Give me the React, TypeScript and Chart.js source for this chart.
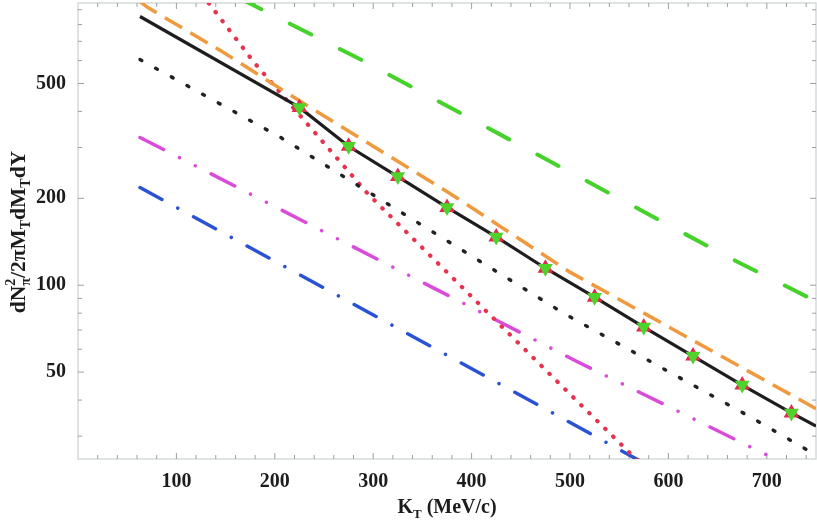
import React, { useEffect, useRef } from "react";
import { Chart, registerables } from "chart.js";

Chart.register(...registerables);

// ---- data (K_T in MeV/c, spectrum values) ----
const markerK = [225, 275, 325, 375, 425, 475, 525, 575, 625, 675, 725];
const redMarkerY = [413, 303, 238, 186, 147, 114.5, 90.9, 71.6, 56.8, 45.1, 36.1];
const greenMarkerY = [413, 303, 238, 186, 147, 114.5, 90.9, 71.6, 56.8, 45.1, 36.1];

const solidK = [63, 225, 275, 325, 375, 425, 475, 525, 575, 625, 675, 725, 750];
const solidY = [853, 413, 303, 238, 186, 147, 114.5, 90.9, 71.6, 56.8, 45.1, 36.1, 32.5];

const orangeK = [63, 71, 148, 223, 300, 376, 500, 581, 659, 736, 750];
const orangeY = [960, 916, 640, 440, 303, 210, 111, 78, 55.5, 39.7, 37.3];

const blackDotK = [63, 206, 495, 685, 750];
const blackDotY = [605, 325, 79.4, 34.7, 25.8];

const redDotK = [120, 132.5, 179, 295, 495, 566, 580];
const redDotY = [1100, 953, 591, 206.6, 43.6, 25.2, 22.8];

const magentaK = [63, 508, 720];
const magentaY = [325, 54.2, 23.9];

const blueK = [63, 462, 580];
const blueY = [218, 39.4, 23.7];

const greenK = [63, 289, 659, 750];
const greenY = [1476, 601, 126, 88];

const xTickLabels = [100, 200, 300, 400, 500, 600, 700];
const yTickLabels = [50, 100, 200, 500];
const yFrameTicks = [30, 40, 50, 60, 70, 80, 90, 100, 200, 300, 400, 500, 600, 700, 800, 900];

const SERIF = "'Liberation Serif', 'Times New Roman', serif";
const TEXT_COLOR = "#1c1c1c";

type Run = { t: string; s: number; dy?: number; stack?: boolean };

function drawRuns(ctx: CanvasRenderingContext2D, runs: Run[]) {
  let total = 0;
  let prevW = 0;
  const widths: number[] = [];
  runs.forEach((r) => {
    ctx.font = `bold ${r.s}px ${SERIF}`;
    const w = ctx.measureText(r.t).width;
    widths.push(w);
    if (r.stack) {
      total += Math.max(0, w - prevW);
      prevW = Math.max(prevW, w);
    } else {
      total += w;
      prevW = w;
    }
  });
  let x = -total / 2;
  let lastStart = x;
  let lastW = 0;
  runs.forEach((r, i) => {
    ctx.font = `bold ${r.s}px ${SERIF}`;
    if (r.stack) {
      ctx.fillText(r.t, lastStart, r.dy || 0);
      x = Math.max(lastStart + lastW, lastStart + widths[i]);
      lastW = Math.max(lastW, widths[i]);
    } else {
      ctx.fillText(r.t, x, r.dy || 0);
      lastStart = x;
      lastW = widths[i];
      x += widths[i];
    }
  });
}

const framePlugin = {
  id: "frameAndTitles",
  beforeDatasetsDraw(chart: any) {
    const { ctx, chartArea } = chart;
    const { left, right, top, bottom } = chartArea;
    const xs = chart.scales.x;
    const ys = chart.scales.y;
    ctx.save();
    ctx.strokeStyle = "#c9d0d0";
    ctx.lineWidth = 1.2;
    ctx.strokeRect(left, top, right - left, bottom - top);
    ctx.strokeStyle = "#9aa0a0";
    ctx.lineWidth = 1;
    ctx.beginPath();
    for (let v = 20; v < 750; v += 20) {
      const px = xs.getPixelForValue(v);
      const len = v % 100 === 0 ? 6 : 4;
      ctx.moveTo(px, bottom);
      ctx.lineTo(px, bottom - len);
      ctx.moveTo(px, top);
      ctx.lineTo(px, top + len);
    }
    yFrameTicks.forEach((v) => {
      const py = ys.getPixelForValue(v);
      const len = yTickLabels.includes(v) ? 6 : 4;
      ctx.moveTo(left, py);
      ctx.lineTo(left + len, py);
      ctx.moveTo(right, py);
      ctx.lineTo(right - len, py);
    });
    ctx.stroke();
    ctx.restore();
  },
  afterDraw(chart: any) {
    const { ctx } = chart;
    ctx.save();
    ctx.fillStyle = TEXT_COLOR;
    ctx.textBaseline = "alphabetic";
    ctx.textAlign = "left";
    ctx.save();
    ctx.translate(447, 513);
    drawRuns(ctx, [
      { t: "K", s: 20 },
      { t: "T", s: 13, dy: 5 },
      { t: " (MeV/c)", s: 20 },
    ]);
    ctx.restore();
    ctx.save();
    ctx.translate(25, 232);
    ctx.rotate(-Math.PI / 2);
    drawRuns(ctx, [
      { t: "dN", s: 21.5 },
      { t: "π", s: 14, dy: 5 },
      { t: "2", s: 14, dy: -10, stack: true },
      { t: "/2πM", s: 21.5 },
      { t: "T", s: 14, dy: 5 },
      { t: "dM", s: 21.5 },
      { t: "T", s: 14, dy: 5 },
      { t: "dY", s: 21.5 },
    ]);
    ctx.restore();
    ctx.restore();
  },
};

function pts(xs: number[], ys: number[]) {
  return xs.map((x, i) => ({ x, y: ys[i] }));
}

function lineDs(xs: number[], ys: number[], color: string, width: number, dash: number[], cap: string, order: number) {
  return {
    type: "line",
    data: pts(xs, ys),
    borderColor: color,
    borderWidth: width,
    borderDash: dash,
    borderCapStyle: cap,
    pointRadius: 0,
    fill: false,
    tension: 0,
    order,
  };
}

export default function App() {
  const ref = useRef<HTMLCanvasElement>(null);
  useEffect(() => {
    if (!ref.current) return;
    const tickFont = { family: SERIF, size: 20, weight: "bold" as const };
    const chart = new Chart(ref.current, {
      type: "line",
      data: {
        datasets: [
          {
            type: "line",
            data: pts(markerK, greenMarkerY),
            showLine: false,
            pointStyle: "triangle",
            pointRotation: 180,
            pointRadius: 8.5,
            pointBackgroundColor: "#4fd22c",
            pointBorderWidth: 0,
            order: 0,
          },
          {
            type: "line",
            data: pts(markerK, redMarkerY),
            showLine: false,
            pointStyle: "triangle",
            pointRadius: 9,
            pointBackgroundColor: "#e4284e",
            pointBorderWidth: 0,
            order: 1,
          },
          lineDs(solidK, solidY, "#1e1e1e", 3.2, [], "butt", 2),
          lineDs(orangeK, orangeY, "#ef9a3e", 3.5, [20, 9.6], "butt", 3),
          lineDs(blackDotK, blackDotY, "#222222", 3.5, [2, 15.9], "round", 4),
          lineDs(redDotK, redDotY, "#e5344f", 4.2, [0.5, 10.7], "round", 5),
          lineDs(magentaK, magentaY, "#d94bd9", 3.5, [26.5, 17.8, 0.01, 17.8, 0.01, 17.8], "round", 6),
          lineDs(blueK, blueY, "#2a52d4", 3.5, [25, 18, 0.01, 18], "round", 7),
          lineDs(greenK, greenY, "#45d22a", 4, [24, 32], "round", 8),
        ] as any,
      },
      options: {
        animation: false,
        responsive: false,
        maintainAspectRatio: false,
        layout: { autoPadding: false, padding: { top: 3, right: 1, left: 0, bottom: 0 } },
        plugins: { legend: { display: false }, tooltip: { enabled: false } },
        scales: {
          x: {
            type: "linear",
            min: 0,
            max: 750,
            grid: { display: false, drawTicks: false },
            border: { display: false },
            afterBuildTicks: (s: any) => {
              s.ticks = xTickLabels.map((v) => ({ value: v }));
            },
            afterFit: (s: any) => {
              s.height = 63;
              s.paddingLeft = 0;
              s.paddingRight = 0;
            },
            ticks: {
              font: tickFont,
              color: TEXT_COLOR,
              padding: 11,
              maxRotation: 0,
              autoSkip: false,
              callback: (v: any) => String(v),
            },
          },
          y: {
            type: "logarithmic",
            min: 25,
            max: 950,
            grid: { display: false, drawTicks: false },
            border: { display: false },
            afterBuildTicks: (s: any) => {
              s.ticks = yTickLabels.map((v) => ({ value: v }));
            },
            afterFit: (s: any) => {
              s.width = 78;
              s.paddingTop = 0;
              s.paddingBottom = 0;
            },
            ticks: {
              font: tickFont,
              color: TEXT_COLOR,
              padding: 12,
              autoSkip: false,
              callback: (v: any) => String(v),
            },
          },
        },
      } as any,
      plugins: [framePlugin],
    });
    return () => chart.destroy();
  }, []);

  return (
    <div style={{ position: "absolute", left: 0, top: 0, width: 817, height: 522, background: "#fff" }}>
      <canvas ref={ref} width={817} height={522} style={{ display: "block", width: 817, height: 522 }} />
    </div>
  );
}
